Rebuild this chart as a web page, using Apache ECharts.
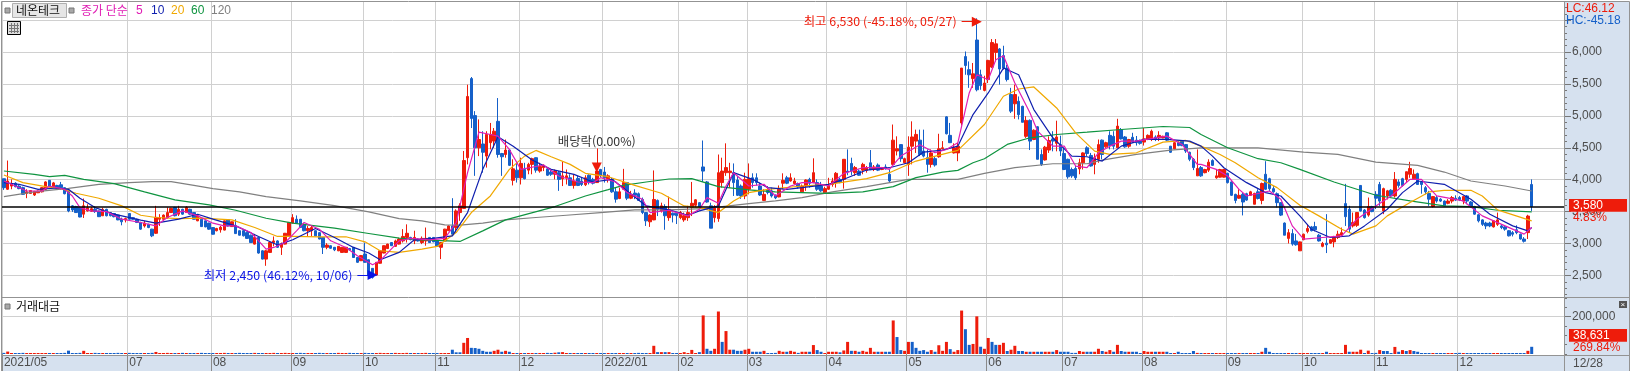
<!DOCTYPE html>
<html lang="ko">
<head>
<meta charset="utf-8">
<title>네온테크</title>
<style>
  html, body { margin: 0; padding: 0; background: #fff; }
  #chart { width: 1631px; height: 371px; }
</style>
<script src="https://cdn.jsdelivr.net/npm/echarts@6/dist/echarts.min.js"></script>
</head>
<body>
<div id="chart"></div>
<script>
// daily candles: [open, close, low, high]
const candles = [
  [4015,3875,3840,4015],[3850,3980,3840,4300],[3900,3940,3850,4005],[3945,3890,3880,3960],[3900,3860,3850,3915],[3875,3770,3760,3890],[3785,3810,3710,3850],[3785,3830,3780,3835],[3760,3815,3745,3825],[3795,3820,3790,3830],
  [3810,3875,3800,3885],[3850,3965,3840,3975],[3990,3890,3880,3995],[3890,3950,3880,3965],[3910,3875,3865,3920],[3920,3875,3840,3965],[3875,3780,3770,3880],[3825,3510,3490,3830],[3590,3525,3495,3600],[3580,3485,3480,3590],
  [3565,3415,3410,3570],[3460,3590,3400,3705],[3510,3560,3500,3615],[3505,3545,3495,3570],[3535,3500,3480,3580],[3510,3420,3415,3515],[3435,3535,3430,3560],[3535,3435,3425,3545],[3485,3435,3425,3490],[3470,3420,3410,3475],
  [3445,3370,3365,3450],[3380,3340,3285,3405],[3370,3390,3330,3405],[3470,3380,3375,3475],[3405,3380,3370,3410],[3380,3330,3320,3390],[3330,3225,3215,3340],[3275,3320,3250,3355],[3300,3250,3240,3310],[3225,3120,3100,3230],
  [3160,3410,3150,3590],[3380,3405,3275,3460],[3380,3445,3370,3455],[3405,3485,3390,3565],[3485,3550,3480,3560],[3565,3435,3425,3575],[3460,3535,3430,3590],[3535,3460,3450,3545],[3485,3565,3480,3585],[3535,3460,3450,3545],
  [3485,3380,3375,3490],[3355,3435,3350,3445],[3380,3265,3260,3385],[3355,3260,3255,3360],[3320,3225,3215,3325],[3250,3145,3140,3255],[3200,3235,3190,3245],[3215,3255,3170,3275],[3210,3355,3205,3360],[3370,3275,3265,3375],
  [3265,3340,3260,3345],[3275,3155,3150,3380],[3200,3130,3125,3205],[3200,3120,3110,3205],[3170,3080,3075,3180],[3130,3015,3010,3140],[2990,3095,2985,3150],[3095,2850,2840,3100],[2885,2755,2750,2895],[2755,2885,2650,2900],
  [2860,3015,2850,3020],[3015,3040,2955,3110],[3040,2940,2930,3050],[2940,2990,2820,3015],[2990,3160,2985,3165],[3120,3330,3115,3335],[3320,3405,3315,3460],[3380,3320,3310,3440],[3380,3250,3245,3385],[3300,3200,3190,3310],
  [3200,3235,3110,3275],[3200,3250,3110,3275],[3200,3120,3115,3205],[3170,3070,3065,3175],[3095,2940,2835,3100],[2940,2975,2910,3005],[2965,2925,2915,2970],[2940,2900,2880,2945],[2885,2955,2880,2960],[2860,2940,2855,2945],
  [2860,2940,2855,2945],[2920,2900,2890,2930],[2940,2780,2775,2945],[2780,2705,2695,2785],[2730,2810,2725,2820],[2835,2705,2700,3015],[2745,2495,2490,2750],[2610,2470,2450,2615],[2505,2705,2500,2710],[2690,2885,2685,2890],
  [2850,2965,2845,2970],[2920,2990,2915,2995],[3015,2965,2960,3020],[2955,3040,2950,3060],[2990,3070,2985,3090],[3040,3110,3015,3225],[3095,3160,3015,3300],[3095,3060,3050,3105],[3040,3095,2990,3200],[3070,3040,3030,3080],
  [3015,3080,2990,3110],[3040,3080,2965,3250],[3095,3015,3010,3100],[3095,3025,3020,3100],[3040,2955,2950,3045],[2940,3015,2755,3020],[3040,3225,3035,3230],[3200,3275,3195,3285],[3275,3145,3140,3710],[3250,3510,3170,3535],
  [3485,3590,3355,3630],[3550,4300,3545,4450],[4345,5305,4240,5490],[5585,4960,4810,5610],[5005,4500,4060,5075],[4500,4630,4370,4945],[4560,4430,4110,4760],[4370,4710,4190,4760],[4580,4710,4475,4890],[4605,4760,4500,4810],
  [4915,4395,4345,5280],[4410,4360,4060,4420],[4395,4465,4345,4630],[4465,4225,4215,4475],[3990,4170,3910,4320],[4150,4030,3955,4265],[4030,4255,3925,4345],[4160,4015,4005,4265],[4150,4240,4085,4265],[4240,4330,4085,4345],
  [4345,4150,4110,4350],[4135,4205,4110,4265],[4190,4225,4135,4240],[4170,4070,4060,4190],[4120,4085,4060,4160],[4085,4135,4005,4160],[4110,4005,3825,4135],[4015,4060,3900,4280],[4030,4060,3925,4160],[4030,3910,3910,4085],
  [3910,3980,3860,4085],[4020,3910,3900,4060],[3980,3925,3900,4030],[3920,4030,3900,4070],[4070,3955,3925,4085],[4005,3945,3925,4030],[3955,4135,3950,4140],[4160,4060,4040,4170],[4120,4030,3955,4200],[4015,4060,3955,4085],
  [4005,3810,3795,4030],[3810,3695,3640,3880],[3705,3810,3695,3875],[3850,3955,3845,4170],[3955,3710,3680,3965],[3710,3770,3695,3825],[3790,3755,3695,3850],[3780,3675,3670,3800],[3690,3485,3460,3720],[3485,3355,3275,3490],
  [3340,3445,3260,3460],[3370,3690,3365,4145],[3675,3535,3430,3690],[3510,3590,3485,3640],[3580,3435,3215,3615],[3405,3535,3355,3735],[3475,3445,3330,3485],[3475,3435,3305,3485],[3405,3485,3380,3510],[3370,3435,3340,3485],
  [3405,3485,3355,3590],[3565,3630,3430,3965],[3600,3685,3565,3695],[3640,3565,3555,3650],[4200,4135,3965,4615],[3965,3650,3640,3980],[3590,3240,3240,3640],[3405,3560,3330,3600],[3390,4110,3340,4395],[3955,4135,3875,4345],
  [4110,4190,4060,4570],[4110,4135,3875,4265],[4110,3955,3745,4255],[3995,3755,3745,4055],[3900,3745,3700,3925],[3745,4005,3695,4110],[3850,4015,3770,4255],[4030,3955,3875,4100],[4030,3955,3910,4100],[3900,3760,3745,3955],
  [3675,3770,3665,3850],[3840,3800,3770,3900],[3825,3745,3720,3875],[3755,3715,3695,3770],[3730,3850,3725,3910],[3945,3990,3850,4100],[4030,3945,3930,4060],[3980,4030,3970,4100],[3940,3980,3925,4030],[3940,3885,3860,3955],
  [3810,3900,3795,3925],[3900,3995,3825,4005],[4005,3945,3875,4030],[3955,4110,3945,4335],[3955,3850,3825,4005],[3900,3825,3810,3965],[3795,3860,3785,3890],[3850,3900,3840,4030],[3925,3980,3890,4030],[3955,4100,3875,4120],
  [4005,3955,3945,4030],[4005,4320,3860,4320],[4135,4120,4070,4475],[4255,4135,4070,4345],[4110,4190,4060,4215],[4135,4070,4060,4160],[4150,4240,4085,4265],[4145,4190,4110,4215],[4265,4160,4150,4465],[4160,4200,4135,4230],
  [4230,4150,4135,4255],[4160,4190,4150,4200],[4200,4170,4160,4240],[4085,3980,3965,4160],[4240,4620,4235,4865],[4450,4485,4380,4680],[4550,4330,4280,4555],[4265,4330,4255,4345],[4240,4510,4060,4680],[4525,4670,4240,4915],
  [4605,4710,4420,4785],[4620,4395,4370,4785],[4450,4370,4350,4785],[4345,4240,4110,4475],[4240,4420,4190,4475],[4330,4230,4205,4370],[4360,4485,4345,4720],[4485,4500,4475,4605],[4985,4720,4710,4995],[4695,4580,4575,4890],
  [4420,4500,4410,4570],[4420,4525,4290,4580],[4890,5750,4850,5750],[5930,5790,5645,6010],[5725,5645,5440,5855],[5585,5660,5440,5830],[6190,5410,5385,6530],[5645,5475,5410,5725],[5400,5515,5385,5630],[5570,5870,5515,5880],
  [5765,6150,5750,6205],[5995,6130,5855,6205],[6050,5735,5490,6065],[5945,5750,5725,6100],[5750,5570,5540,5800],[5335,5075,5045,5440],[5190,5335,4955,5490],[5230,5020,4945,5305],[5150,4900,4900,5160],[4680,4930,4655,4995],
  [4930,4605,4465,4945],[4630,4775,4620,4790],[4830,4320,4320,4840],[4395,4240,4215,4475],[4310,4510,4300,4530],[4465,4615,4420,4680],[4640,4605,4445,4760],[4570,4670,4445,4925],[4550,4450,4370,4690],[4410,4160,4150,4500],
  [4320,4045,4015,4330],[4160,4060,4030,4190],[4175,4030,3995,4215],[4170,4265,4085,4330],[4265,4420,4160,4430],[4500,4410,4370,4525],[4380,4215,4205,4420],[4240,4345,4085,4410],[4320,4550,4265,4630],[4620,4395,4320,4630],
  [4515,4580,4500,4595],[4695,4535,4475,4760],[4680,4525,4475,4760],[4500,4840,4495,4955],[4785,4640,4630,4810],[4670,4515,4500,4685],[4525,4630,4500,4640],[4665,4590,4580,4735],[4620,4580,4535,4685],[4605,4570,4550,4630],
  [4590,4640,4535,4810],[4640,4695,4620,4710],[4630,4760,4605,4785],[4670,4630,4605,4695],[4655,4695,4605,4760],[4655,4680,4650,4690],[4735,4620,4605,4745],[4525,4430,4420,4530],[4485,4580,4475,4590],[4580,4535,4525,4605],
  [4605,4535,4525,4620],[4550,4450,4420,4560],[4430,4320,4290,4440],[4320,4190,4150,4340],[4060,4175,4060,4475],[4190,4060,4045,4215],[4110,4160,4100,4170],[4150,4275,4120,4320],[4300,4225,4215,4320],[4030,4060,4015,4160],
  [4040,4160,4035,4170],[4040,4160,4035,4170],[4100,3955,3940,4110],[3965,3755,3745,3975],[3770,3675,3630,3780],[3710,3755,3700,3850],[3770,3650,3440,3795],[3780,3680,3670,3795],[3755,3810,3745,3825],[3615,3785,3615,3795],
  [3810,3705,3690,3850],[3675,3940,3615,3955],[4085,3850,3840,4290],[4015,3860,3825,4030],[3860,3810,3795,3900],[3780,3640,3565,3800],[3640,3445,3430,3650],[3320,3130,3130,3330],[3080,3170,3000,3225],[3155,2990,2965,3225],
  [3040,2980,2965,3150],[2885,3025,2885,3030],[3060,3145,3050,3155],[3190,3235,3160,3300],[3260,3200,3190,3275],[3265,3215,3190,3340],[3130,3040,3030,3150],[2955,3000,2940,3025],[3005,2980,2850,3460],[3005,3060,2995,3070],
  [3025,3095,2940,3120],[3095,3145,3070,3200],[3130,3170,3110,3250],[3625,3420,3275,3935],[3535,3225,3170,3590],[3275,3330,3250,3485],[3285,3485,3260,3490],[3910,3510,3500,3915],[3525,3405,3390,3540],[3445,3580,3420,3720],
  [3580,3500,3490,3590],[3770,3710,3540,3820],[3925,3665,3590,3965],[3510,3860,3460,3875],[3745,3825,3690,3840],[3835,3745,3725,3850],[3745,4005,3720,4120],[3965,3910,3875,4005],[4015,3910,3890,4030],[4005,4125,3965,4125],
  [4085,4175,4030,4280],[4015,4085,4005,4160],[4095,3925,3925,4110],[3965,3925,3780,3980],[3875,3810,3770,3900],[3785,3695,3590,3825],[3580,3735,3565,3745],[3720,3665,3640,3745],[3695,3665,3650,3710],[3665,3590,3590,3675],
  [3630,3665,3615,3695],[3665,3720,3630,3745],[3710,3680,3665,3755],[3720,3685,3665,3745],[3665,3735,3615,3740],[3745,3665,3615,3760],[3650,3580,3565,3665],[3580,3460,3450,3590],[3450,3355,3330,3460],[3370,3300,3275,3380],
  [3320,3275,3225,3340],[3320,3275,3255,3340],[3260,3355,3250,3360],[3300,3370,3275,3485],[3275,3250,3225,3300],[3260,3225,3200,3275],[3200,3120,3110,3210],[3170,3145,3110,3195],[3215,3170,3145,3285],[3145,3070,3060,3155],
  [3070,3035,3015,3100],[3170,3430,3070,3450],[3925,3580,3510,4005]
];

// moving averages, read at the bends of each line: [day index, price]
const ma5 = [[0,3980],[3,3901],[6,3823],[10,3823],[12,3901],[16,3849],[18,3745],[20,3563],[23,3511],[27,3500],[31,3381],[36,3329],[40,3276],[43,3407],[47,3511],[51,3433],[55,3318],[58,3276],[61,3276],[65,3172],[69,2912],[71,2938],[74,3016],[77,3198],[79,3329],[83,3224],[86,3042],[90,2938],[93,2808],[97,2667],[99,2730],[104,3042],
  [107,3079],[112,3058],[116,3079],[119,3329],[122,4110],[125,4745],[128,4709],[130,4683],[133,4474],[136,4162],[142,4230],[146,4058],[151,3964],[155,3954],[157,4032],[161,3964],[164,3797],[168,3693],[170,3485],[175,3521],[180,3433],[183,3537],[185,3719],[188,3631],[190,3901],[192,4110],[196,3901],[200,3928],[203,3745],[207,3901],[210,3954],
  [213,3954],[217,3901],[221,4099],[226,4188],[231,4188],[233,4162],[236,4370],[241,4547],[245,4422],[248,4474],[251,4579],[254,5360],[256,5646],[259,5568],[261,5880],[263,5943],[266,5516],[270,5047],[272,4761],[276,4526],[279,4526],[282,4214],[285,4188],[288,4422],[291,4526],[294,4605],[298,4605],[303,4657],[306,4683],[310,4553],[314,4240],
  [315,4240],[319,4162],[322,4058],[325,3849],[327,3745],[333,3823],[336,3693],[339,3276],[342,3068],[347,3094],[352,3120],[356,3381],[361,3589],[365,3745],[370,4006],[373,4006],[377,3745],[384,3667],[389,3433],[395,3276],[400,3146],[402,3250]];
const ma10 = [[0,3954],[4,3928],[9,3849],[14,3870],[17,3849],[20,3709],[24,3563],[29,3459],[36,3365],[40,3318],[46,3381],[51,3459],[55,3381],[61,3276],[67,3110],[72,2975],[76,3058],[82,3235],[87,3094],[92,2938],[96,2850],[99,2745],[104,2860],
  [108,3058],[113,3079],[118,3120],[122,3485],[126,4162],[130,4672],[134,4526],[139,4308],[144,4162],[150,4084],[155,3964],[160,4006],[164,3823],[169,3589],[175,3527],[180,3443],[183,3511],[188,3589],[192,4110],[197,4006],[201,3876],[206,3849],[210,3876],
  [217,3928],[221,4006],[227,4151],[233,4188],[238,4266],[242,4433],[247,4464],[251,4526],[255,5021],[259,5360],[263,5750],[267,5646],[271,5099],[276,4657],[281,4370],[285,4360],[289,4292],[294,4526],[300,4631],[306,4631],[312,4605],[315,4526],
  [318,4370],[321,4188],[327,3954],[332,3797],[336,3745],[341,3433],[344,3224],[349,3094],[354,3120],[358,3276],[364,3537],[368,3797],[372,3980],[379,3928],[386,3693],[391,3459],[397,3276],[401,3198],[402,3250]];
const ma20 = [[0,4073],[5,3954],[11,3891],[15,3860],[19,3787],[25,3709],[31,3589],[36,3443],[40,3407],[46,3391],[52,3396],[60,3370],[66,3250],[72,3110],[76,3110],[83,3105],[90,3105],[95,3026],[99,2886],[104,2860],
  [110,2912],[114,2954],[119,3172],[123,3485],[128,3745],[133,4162],[137,4370],[140,4459],[144,4360],[149,4240],[153,4100],[159,4047],[166,3912],[173,3787],[179,3589],[183,3563],[188,3485],[192,3667],[196,3797],[201,3849],[210,3901],
  [217,3928],[227,4016],[233,4110],[240,4292],[251,4459],[258,4865],[263,5308],[267,5422],[271,5454],[277,5125],[282,4735],[287,4448],[291,4396],[298,4422],[305,4589],[311,4615],[315,4526],
  [320,4396],[324,4266],[330,4032],[335,3876],[341,3599],[346,3433],[352,3224],[355,3146],[361,3276],[364,3433],[370,3641],[375,3808],[379,3834],[386,3834],[389,3745],[393,3527],[402,3355]];
const ma60 = [[0,4136],[8,4084],[12,4047],[16,4068],[21,4006],[29,3938],[37,3808],[45,3683],[54,3605],[61,3521],[69,3396],[76,3318],[87,3240],[96,3157],[104,3084],
  [110,3058],[120,3032],[126,3198],[132,3370],[145,3579],[153,3745],[159,3844],[163,3912],[169,3964],[175,4011],[181,4016],[188,3891],[196,3839],[203,3808],[210,3797],
  [217,3787],[226,3808],[234,3891],[240,4032],[247,4120],[251,4146],[255,4266],[258,4329],[264,4553],[270,4657],[277,4709],[285,4745],[294,4787],[305,4834],[312,4818],[315,4709],
  [322,4500],[330,4329],[336,4266],[341,4162],[350,3964],[361,3756],[370,3667],[379,3589],[386,3579],[393,3521],[402,3495]];
const ma120 = [[0,3735],[8,3808],[17,3865],[25,3928],[33,3954],[39,3969],[44,3969],[50,3912],[55,3860],[62,3808],[69,3735],[78,3667],[87,3594],[96,3495],[104,3391],
  [110,3355],[116,3292],[120,3287],[126,3318],[132,3370],[140,3407],[148,3443],[157,3485],[166,3527],[175,3527],[184,3547],[189,3579],[196,3626],[203,3667],[210,3719],
  [218,3808],[227,3891],[238,4006],[251,4006],[258,4100],[266,4188],[276,4250],[285,4250],[289,4308],[298,4396],[307,4464],[315,4500],
  [330,4500],[342,4433],[351,4396],[361,4276],[372,4224],[379,4120],[386,3980],[395,3901],[402,3823]];

// 거래대금 per day
const volumes = [
  6000,13000,5000,4000,5000,6000,5000,4000,5000,4000, 5000,4000,5000,4000,5000,4000,6000,18000,5000,4000,
  6000,17000,4000,5000,6000,5000,4000,5000,5000,4000, 6000,4000,5000,6000,5000,4000,5000,4000,5000,6000,
  11000,5000,4000,6000,5000,4000,5000,6000,4000,5000, 4000,5000,6000,4000,5000,5000,4000,5000,6000,5000,
  5000,4000,6000,5000,4000,5000,6000,5000,4000,5000, 5000,6000,4000,5000,6000,5000,5000,4000,6000,5000,
  4000,5000,5000,6000,4000,5000,4000,5000,6000,5000, 5000,6000,4000,5000,5000,6000,5000,4000,5000,6000,
  5000,4000,5000,6000,4000,5000,6000,5000,4000,5000, 5000,6000,4000,5000,4000,5000,5000,4000,23000,9000,
  9000,60000,86000,33000,32000,28000,17000,12000,12000,17000, 23000,12000,17000,12000,5000,4000,5000,4000,5000,4000,
  5000,5000,5000,6000,5000,7000,9000,10000,5000,4000, 5000,5000,4000,5000,4000,5000,4000,5000,5000,4000,
  5000,4000,5000,5000,4000,5000,5000,6000,5000,4000, 5000,44000,10000,10000,10000,10000,5000,5000,5000,10000,
  5000,22000,5000,10000,207000,28000,17000,28000,228000,65000, 123000,23000,23000,17000,17000,23000,28000,12000,12000,12000,
  17000,5000,5000,6000,17000,12000,12000,17000,12000,6000, 12000,12000,12000,48000,21000,12000,4000,12000,12000,12000,
  9000,19000,65000,17000,17000,12000,17000,12000,33000,12000, 12000,12000,12000,12000,180000,91000,21000,17000,65000,65000,
  33000,17000,21000,12000,21000,12000,47000,17000,65000,26000, 12000,21000,233000,133000,49000,54000,202000,39000,28000,86000,
  65000,49000,49000,60000,16000,23000,44000,16000,16000,12000, 12000,12000,12000,12000,12000,12000,12000,21000,12000,12000,
  12000,6000,6000,16000,12000,12000,12000,12000,28000,16000, 12000,21000,12000,49000,16000,12000,12000,12000,12000,5000,
  16000,12000,12000,12000,12000,12000,12000,5000,5000,12000, 5000,5000,5000,16000,6000,5000,5000,4000,5000,5000,
  4000,5000,5000,4000,5000,5000,4000,5000,5000,4000, 5000,12000,33000,12000,5000,4000,5000,5000,4000,5000,
  5000,4000,5000,5000,4000,5000,5000,4000,12000,5000, 4000,5000,5000,49000,12000,12000,12000,23000,5000,18000,
  5000,6000,21000,16000,16000,5000,38000,12000,21000,16000, 21000,16000,12000,5000,5000,4000,5000,5000,4000,5000,
  5000,4000,5000,6000,4000,5000,5000,4000,5000,5000, 4000,5000,5000,4000,5000,5000,5000,4000,5000,5000,
  4000,17000,38631
];
// volume bars whose colour differs from that day's candle
const volumeRedDays = [130,184,222,228,248,256,262,263,265,291,353,357,362,368];
const volumeBlueDays = [119,120,125,127,128,189,235,239,240,260,261,363,364,369,371];

// month labels on the date axis, keyed by day index
const monthTicks = { 0:'2021/05', 33:'07', 55:'08', 76:'09', 95:'10', 114:'11', 136:'12', 158:'2022/01', 178:'02', 196:'03', 217:'04', 238:'05', 259:'06', 279:'07', 300:'08', 322:'09', 342:'10', 361:'11', 383:'12' };
const priceLevels = [2500,3000,3500,4000,4500,5000,5500,6000,6500];
const priceLabels = [2500,3000,3500,4000,4500,5000,5500,6000];
const priceMinorTicks = [2200,2300,2400,2500,2600,2700,2800,2900,3000,3100,3200,3300,3400,3500,3600,3700,3800,3900,4000,4100,4200,4300,4400,4500,4600,4700,4800,4900,5000,5100,5200,5300,5400,5500,5600,5700,5800,5900,6000,6100,6200,6300,6400,6500,6600,6700];
const volumeTicks = [0,50000,100000,150000,200000,250000,300000];
const lastClose = 3580;
const dayCount = 411; // candles plus the empty room at the right edge

const RED = '#ee1c0b', BLUE = '#1560c9', GRID = '#d0d0d0', FRAME = '#939393', AXIS_TEXT = '#4d4d4d', BAND = '#d6e1ef';
const KR = '"Noto Sans CJK KR", sans-serif', LATIN = '"Liberation Sans", sans-serif';

const categories = Array.from({ length: dayCount }, (_, i) => monthTicks[i] || '');
const isMonthStart = (i) => monthTicks[i] !== undefined;

const volumeBars = volumes.map((v, i) => {
  const c = candles[i];
  let up = c[1] >= c[0];
  if (volumeRedDays.includes(i)) up = true;
  if (volumeBlueDays.includes(i)) up = false;
  return { value: v, itemStyle: { color: up ? RED : BLUE } };
});

const maLine = (name, data, color) => ({
  name, type: 'line', data, xAxisIndex: 0, yAxisIndex: 0, symbol: 'none', z: 5, silent: true,
  lineStyle: { color, width: 1.2 }
});

const txt = (text, x, y, fill, fontSize = 12, fontFamily = LATIN) => ({
  type: 'text', x, y, z: 100, silent: true,
  style: { text, fill, fontSize, fontFamily, verticalAlign: 'middle' }
});
const box = (x, y, width, height, fill, extra = {}, z = 90) => ({
  type: 'rect', z, silent: true, shape: { x, y, width, height }, style: { fill, ...extra }
});
const rule = (x1, y1, x2, y2, stroke = FRAME, z = 60) => ({
  type: 'line', z, silent: true, shape: { x1, y1, x2, y2 }, style: { stroke, lineWidth: 1 }
});

const option = {
  animation: false,
  backgroundColor: '#fff',
  grid: [
    { left: 2, width: 1562, top: 1.1, height: 296.6 },
    { left: 2, width: 1562, top: 297.7, height: 56.3 }
  ],
  xAxis: [
    {
      type: 'category', gridIndex: 0, data: categories, boundaryGap: true,
      axisLine: { show: false }, axisTick: { show: false }, axisLabel: { show: false },
      splitLine: { show: true, interval: isMonthStart, lineStyle: { color: GRID, width: 1 } }
    },
    {
      type: 'category', gridIndex: 1, data: categories, boundaryGap: true,
      axisLine: { show: false },
      axisTick: { show: true, interval: isMonthStart, length: 17, lineStyle: { color: '#8a8a8a' } },
      axisLabel: { show: true, interval: isMonthStart, margin: 3, align: 'left', color: AXIS_TEXT, fontSize: 12, fontFamily: LATIN },
      splitLine: { show: true, interval: isMonthStart, lineStyle: { color: GRID, width: 1 } }
    }
  ],
  yAxis: [
    {
      type: 'value', gridIndex: 0, position: 'right', min: 2150, max: 6800, splitLine: { show: false },
      axisLine: { show: false },
      axisTick: { show: true, length: 7, customValues: priceLevels, lineStyle: { color: '#777' } },
      axisLabel: { show: true, margin: 8, customValues: priceLabels, color: AXIS_TEXT, fontSize: 12, fontFamily: LATIN, formatter: (v) => v.toLocaleString('en-US') }
    },
    {
      type: 'value', gridIndex: 0, position: 'right', min: 2150, max: 6800, splitLine: { show: false },
      axisLine: { show: false }, axisLabel: { show: false },
      axisTick: { show: true, length: 3, customValues: priceMinorTicks, lineStyle: { color: '#777' } }
    },
    {
      type: 'value', gridIndex: 1, position: 'right', min: 0, max: 302000, splitLine: { show: false },
      axisLine: { show: false },
      axisTick: { show: true, length: 7, customValues: [200000], lineStyle: { color: '#777' } },
      axisLabel: { show: true, margin: 8, customValues: [200000], color: AXIS_TEXT, fontSize: 12, fontFamily: LATIN, formatter: (v) => v.toLocaleString('en-US') }
    },
    {
      type: 'value', gridIndex: 1, position: 'right', min: 0, max: 302000, splitLine: { show: false },
      axisLine: { show: false }, axisLabel: { show: false },
      axisTick: { show: true, length: 3, customValues: volumeTicks, lineStyle: { color: '#777' } }
    }
  ],
  series: [
    {
      // only carries the horizontal price grid, under everything else
      name: 'grid', type: 'line', data: [[0, priceLevels[0]]], xAxisIndex: 0, yAxisIndex: 0, symbol: 'none', z: 1, silent: true,
      markLine: {
        silent: true, symbol: 'none', z: 1, label: { show: false }, animation: false,
        lineStyle: { color: GRID, width: 1, type: 'solid' },
        data: priceLevels.map((yAxis) => ({ yAxis }))
      }
    },
    {
      name: '네온테크', type: 'candlestick', data: candles, xAxisIndex: 0, yAxisIndex: 0, barWidth: 3, z: 3, silent: true,
      itemStyle: { color: RED, color0: BLUE, borderColor: RED, borderColor0: BLUE, borderWidth: 1 },
      markLine: {
        silent: true, z: 8, animation: false, symbolSize: 10,
        lineStyle: { type: 'solid', width: 1 },
        data: [
          [
            { coord: [252, 6478], symbol: 'none', lineStyle: { color: RED, width: 1, type: 'solid' }, label: { show: true, position: 'start', distance: 5, formatter: '최고 6,530 (-45.18%, 05/27)', color: RED, fontSize: 12.4, fontFamily: KR } },
            { coord: [256, 6478], symbol: 'triangle' }
          ],
          [
            { coord: [93, 2505], symbol: 'none', lineStyle: { color: '#0a14e6', width: 1, type: 'solid' }, label: { show: true, position: 'start', distance: 5, formatter: '최저 2,450 (46.12%, 10/06)', color: '#0a14e6', fontSize: 12.4, fontFamily: KR } },
            { coord: [97, 2505], symbol: 'triangle' }
          ],
          [
            { coord: [156, 4490], symbol: 'none', lineStyle: { color: RED, width: 1, type: 'solid' }, label: { show: true, position: 'start', distance: 1, formatter: '배당락(0.00%)', color: '#333', fontSize: 12.4, fontFamily: KR } },
            { coord: [156, 4190], symbol: 'triangle' }
          ]
        ]
      }
    },
    maLine('120', ma120, '#808080'),
    maLine('60', ma60, '#0f9440'),
    maLine('20', ma20, '#f0a800'),
    maLine('10', ma10, '#0f1fae'),
    maLine('5', ma5, '#e01db4'),
    {
      // current price line
      name: 'last', type: 'line', data: [[0, lastClose]], xAxisIndex: 0, yAxisIndex: 0, symbol: 'none', z: 9, silent: true,
      markLine: {
        silent: true, symbol: 'none', z: 9, label: { show: false }, animation: false,
        lineStyle: { color: '#000', width: 1.5, type: 'solid' },
        data: [{ yAxis: lastClose }]
      }
    },
    {
      name: '거래대금', type: 'bar', data: volumeBars, xAxisIndex: 1, yAxisIndex: 2, barWidth: 3, barMinHeight: 1, z: 3, silent: true,
      markLine: {
        silent: true, symbol: 'none', z: 1, label: { show: false }, animation: false,
        lineStyle: { color: GRID, width: 1, type: 'solid' },
        data: [{ yAxis: 200000 }]
      }
    }
  ],
  graphic: {
    elements: [
      // right and bottom axis bands
      box(1564, 1, 65, 370, BAND, {}, -10),
      box(1, 355, 1628, 16, BAND, {}, -10),
      // frame
      rule(1.5, 1.5, 1629.5, 1.5),
      rule(1.5, 1.5, 1.5, 371),
      rule(1629.5, 1.5, 1629.5, 371),
      rule(1564.5, 1.5, 1564.5, 355),
      rule(1.5, 297.5, 1629.5, 297.5),
      rule(1.5, 355.5, 1629.5, 355.5),
      rule(1564.5, 355.5, 1564.5, 371),
      // stock title row
      box(5, 8, 5, 5, '#a8a8a8', { stroke: '#777', lineWidth: 1 }),
      box(12.5, 3.5, 54, 14, '#e6e6e6', { stroke: '#b0b0b0', lineWidth: 1 }),
      txt('네온테크', 16, 10.5, '#111', 12, KR),
      box(69, 8, 5, 5, '#a8a8a8', { stroke: '#777', lineWidth: 1 }),
      txt('종가 단순', 81, 10.5, '#e01db4', 12, KR),
      txt('5', 136, 10.5, '#e01db4', 12),
      txt('10', 151, 10.5, '#0f1fae', 12),
      txt('20', 171, 10.5, '#f0a800', 12),
      txt('60', 191, 10.5, '#0f9440', 12),
      txt('120', 211, 10.5, '#808080', 12),
      // table button
      box(7.5, 21.5, 13, 13, '#ddd', { stroke: '#000', lineWidth: 1 }),
      rule(9, 25.5, 19, 25.5, '#777', 91), rule(9, 28.5, 19, 28.5, '#777', 91), rule(9, 31.5, 19, 31.5, '#777', 91),
      rule(11.5, 23, 11.5, 33, '#777', 91), rule(14.5, 23, 14.5, 33, '#777', 91), rule(17.5, 23, 17.5, 33, '#777', 91),
      // volume pane title
      box(5, 304, 5, 5, '#a8a8a8', { stroke: '#777', lineWidth: 1 }),
      txt('거래대금', 16, 306.7, '#111', 12, KR),
      box(1619, 301, 8, 7, '#555'),
      txt('×', 1620.5, 304.5, '#fff', 8),
      // top right range text
      txt('LC:46.12', 1566, 8.5, RED, 12),
      txt('HC:-45.18', 1566, 21, BLUE, 12),
      // last price and last volume badges
      box(1569, 199, 58, 12.7, RED),
      txt('3,580', 1573, 205.5, '#fff', 12),
      txt('4.83%', 1573, 217.5, RED, 12),
      box(1569, 329, 58, 12.7, RED),
      txt('38,631', 1573, 335.5, '#fff', 12),
      txt('269.84%', 1573, 347.5, RED, 12),
      txt('12/28', 1573, 363.5, AXIS_TEXT, 12)
    ]
  }
};

const chart = echarts.init(document.getElementById('chart'), null, { renderer: 'canvas' });
chart.setOption(option);
window.addEventListener('resize', () => chart.resize());
</script>
</body>
</html>
